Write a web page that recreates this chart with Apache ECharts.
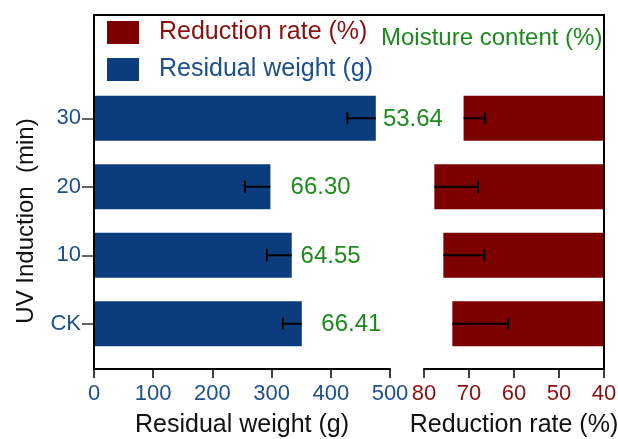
<!DOCTYPE html>
<html>
<head>
<meta charset="utf-8">
<script src="https://cdn.jsdelivr.net/npm/echarts@6/dist/echarts.min.js"></script>
<style>
html,body{margin:0;padding:0;background:#fff;}
#chart{width:618px;height:439px;}
</style>
</head>
<body>
<div id="chart"></div>
<script>
// ---- data ----
const categories = ['CK', '10', '20', '30'];
const residualWeight = [351, 334, 298, 476];
const residualErr = [32, 42, 43, 48];
const reductionRate = [73.7, 75.7, 77.7, 71.2];
const reductionErr = [12.4, 9.1, 9.7, 4.8];
const moistureContent = ['66.41', '64.55', '66.30', '53.64'];
const moistureLabelX = [384, 349, 332, 488];
const weightTicks = { min: 0, max: 500, interval: 100 };
const rateTicks = { min: 40, max: 80, interval: 10 };

// ---- styles ----
const FONT = '"Liberation Sans", Arial, Helvetica, sans-serif';
const BLUE = '#0b3d7e';
const BLUE_TXT = '#1d4f8e';
const RED = '#7c0000';
const RED_TXT = '#8a0f0f';
const GREEN = '#1e8a1e';

const chart = echarts.init(document.getElementById('chart'), null, { renderer: 'canvas' });

function errorRenderer(api) {
  const cat = api.value(0);
  const v = api.value(1);
  const lo = api.value(2);
  const p1 = api.coord([v, cat]);
  const p2 = api.coord([lo, cat]);
  const style = { stroke: '#000', lineWidth: 2 };
  return {
    type: 'group',
    children: [
      { type: 'line', shape: { x1: p1[0], y1: p1[1], x2: p2[0], y2: p2[1] }, style },
      { type: 'line', shape: { x1: p2[0], y1: p2[1] - 6, x2: p2[0], y2: p2[1] + 6 }, style }
    ]
  };
}

const option = {
  animation: false,
  backgroundColor: '#fff',
  textStyle: { fontFamily: FONT },
  title: {
    text: 'Moisture content (%)',
    left: 381, top: 26, padding: 0,
    textStyle: { color: GREEN, fontSize: 24, fontWeight: 'normal', fontFamily: FONT }
  },
  legend: {
    orient: 'vertical',
    left: 107, top: 20, padding: 0,
    itemWidth: 32, itemHeight: 23, itemGap: 12,
    icon: 'rect',
    textStyle: { fontSize: 25, fontFamily: FONT, padding: [0, 0, 0, 15] },
    data: [
      { name: 'Reduction rate (%)', textStyle: { color: RED_TXT } },
      { name: 'Residual weight (g)', textStyle: { color: BLUE_TXT } }
    ]
  },
  grid: [
    { left: 94, width: 296, top: 84, height: 274, containLabel: false, outerBoundsMode: 'none' },
    { left: 424, width: 180, top: 84, height: 274, containLabel: false, outerBoundsMode: 'none' }
  ],
  xAxis: [
    {
      gridIndex: 0, type: 'value',
      min: weightTicks.min, max: weightTicks.max, interval: weightTicks.interval,
      offset: 11,
      name: 'Residual weight (g)', nameLocation: 'middle', nameGap: 44,
      nameTextStyle: { color: '#111', fontSize: 25, fontFamily: FONT },
      axisLine: { show: true, lineStyle: { color: '#000', width: 2 } },
      axisTick: { show: true, length: 9, lineStyle: { color: '#000', width: 1.5 } },
      axisLabel: { color: BLUE_TXT, fontSize: 22, margin: 14, fontFamily: FONT },
      splitLine: { show: false }
    },
    {
      gridIndex: 1, type: 'value',
      min: rateTicks.min, max: rateTicks.max, interval: rateTicks.interval,
      inverse: true, startValue: rateTicks.min,
      offset: 11,
      name: 'Reduction rate (%)', nameLocation: 'middle', nameGap: 44,
      nameTextStyle: { color: '#111', fontSize: 25, fontFamily: FONT },
      axisLine: { show: true, lineStyle: { color: '#000', width: 2 } },
      axisTick: { show: true, length: 9, lineStyle: { color: '#000', width: 1.5 } },
      axisLabel: { color: RED_TXT, fontSize: 22, margin: 14, fontFamily: FONT },
      splitLine: { show: false }
    }
  ],
  yAxis: [
    {
      gridIndex: 0, type: 'category', data: categories,
      name: 'UV Induction  (min)', nameLocation: 'middle', nameGap: 56,
      nameTextStyle: { color: '#111', fontSize: 24, fontFamily: FONT },
      axisLine: { show: false },
      axisTick: { show: true, alignWithLabel: true, length: 12, lineStyle: { color: '#333', width: 1.5 } },
      axisLabel: { color: BLUE_TXT, fontSize: 22, margin: 13, fontFamily: FONT },
      splitLine: { show: false }
    },
    {
      gridIndex: 1, type: 'category', data: categories,
      axisLine: { show: false }, axisTick: { show: false }, axisLabel: { show: false },
      splitLine: { show: false }
    }
  ],
  graphic: [
    {
      type: 'polyline', silent: true, z: 10,
      shape: { points: [[94, 370], [94, 15], [604, 15], [604, 370]] },
      style: { stroke: '#000', lineWidth: 2, fill: null }
    }
  ],
  series: [
    {
      name: 'Residual weight (g)', type: 'bar',
      xAxisIndex: 0, yAxisIndex: 0,
      data: residualWeight, barWidth: 45,
      itemStyle: { color: BLUE }
    },
    {
      name: 'Reduction rate (%)', type: 'bar',
      xAxisIndex: 1, yAxisIndex: 1, clip: true,
      data: reductionRate, barWidth: 45,
      itemStyle: { color: RED }
    },
    {
      type: 'custom', xAxisIndex: 0, yAxisIndex: 0, z: 5,
      encode: { x: [1, 2], y: 0 },
      data: categories.map((c, i) => [i, residualWeight[i], residualWeight[i] - residualErr[i]]),
      renderItem: (params, api) => errorRenderer(api)
    },
    {
      type: 'custom', xAxisIndex: 1, yAxisIndex: 1, z: 5, clip: false,
      encode: { x: [1, 2], y: 0 },
      data: categories.map((c, i) => [i, reductionRate[i], reductionRate[i] - reductionErr[i]]),
      renderItem: (params, api) => errorRenderer(api)
    },
    {
      type: 'custom', xAxisIndex: 0, yAxisIndex: 0, z: 6, clip: false,
      encode: { x: 1, y: 0 },
      data: categories.map((c, i) => [i, moistureLabelX[i], moistureContent[i]]),
      renderItem: (params, api) => {
        const p = api.coord([api.value(1), api.value(0)]);
        return {
          type: 'text', x: p[0], y: p[1] + 1,
          style: {
            text: moistureContent[params.dataIndex],
            fill: GREEN, fontSize: 24, fontFamily: FONT,
            align: 'left', verticalAlign: 'middle'
          }
        };
      }
    }
  ]
};
chart.setOption(option);
</script>
</body>
</html>
